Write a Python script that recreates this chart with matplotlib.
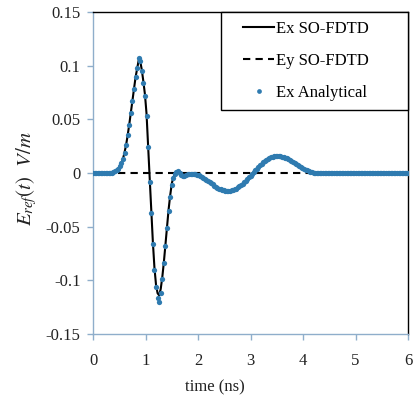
import numpy as np
import matplotlib
matplotlib.use("Agg")
import matplotlib.pyplot as plt
from matplotlib.lines import Line2D
from matplotlib.legend_handler import HandlerLine2D

plt.rcParams['font.family'] = ['Liberation Serif', 'DejaVu Serif']
plt.rcParams['mathtext.fontset'] = 'stix'

# time samples (ns), 0.03 ns step
t = np.round(np.arange(201) * 0.03, 2)

# Ex analytical (V/m)
ex_analytical = [
    0, 0, 0, 0, 0, 0, 0, 0, 0, 0, 0, 0,
    0.0003, 0.0008, 0.0015, 0.0025, 0.004, 0.0062, 0.0092, 0.013, 0.019, 0.026,
    0.035, 0.045, 0.056, 0.067, 0.078, 0.089, 0.098, 0.107, 0.104, 0.095,
    0.084, 0.072, 0.053, 0.024, -0.008, -0.037, -0.066, -0.090, -0.106, -0.116,
    -0.120, -0.112, -0.099, -0.084, -0.068, -0.051, -0.035, -0.022, -0.011, -0.005,
    -0.001, 0.001, 0.0015, 0.0, -0.002, -0.003, -0.0025, -0.0015, -0.001, -0.0008,
    -0.0009, -0.001, -0.0011, -0.0013, -0.0017, -0.0022, -0.0028, -0.0036, -0.0044, -0.0054,
    -0.0064, -0.0074, -0.0085, -0.0096, -0.0107, -0.0118, -0.0127, -0.0137, -0.0145, -0.0152,
    -0.0158, -0.0163, -0.0166, -0.0168, -0.0168, -0.0166, -0.0163, -0.0159, -0.0153, -0.0145,
    -0.0135, -0.0125, -0.0113, -0.0100, -0.0086, -0.0072, -0.0056, -0.0041, -0.0024, -0.0008,
    0.0009, 0.0025, 0.0041, 0.0057, 0.0072, 0.0086, 0.0099, 0.0111, 0.0122, 0.0132,
    0.0140, 0.0147, 0.0152, 0.0156, 0.0158, 0.0158, 0.0157, 0.0155, 0.0152, 0.0147,
    0.0142, 0.0136, 0.0129, 0.0121, 0.0113, 0.0104, 0.0095, 0.0085, 0.0076, 0.0066,
    0.0057, 0.0048, 0.0040, 0.0032, 0.0024, 0.0018, 0.0012, 0.0007, 0.0004, 0.0002,
    0, 0, 0, 0, 0, 0, 0, 0, 0, 0, 0, 0, 0, 0, 0, 0, 0, 0, 0, 0,
    0, 0, 0, 0, 0, 0, 0, 0, 0, 0, 0, 0, 0, 0, 0, 0, 0, 0, 0, 0,
    0, 0, 0, 0, 0, 0, 0, 0, 0, 0, 0, 0, 0, 0, 0, 0, 0, 0, 0,
]

# Ex SO-FDTD (V/m)
ex_fdtd = [
    0, 0, 0, 0, 0, 0, 0, 0, 0, 0, 0, 0,
    0.0003, 0.0008, 0.0015, 0.0025, 0.004, 0.0062, 0.0092, 0.013, 0.019, 0.026,
    0.035, 0.045, 0.056, 0.067, 0.078, 0.089, 0.097, 0.105, 0.104, 0.096,
    0.085, 0.073, 0.055, 0.026, -0.005, -0.035, -0.064, -0.088, -0.104, -0.112,
    -0.114, -0.108, -0.097, -0.083, -0.067, -0.050, -0.034, -0.021, -0.010, -0.004,
    -0.001, 0.001, 0.0015, 0.0, -0.002, -0.003, -0.0025, -0.0015, -0.001, -0.0008,
    -0.0009, -0.001, -0.0011, -0.0013, -0.0017, -0.0022, -0.0028, -0.0036, -0.0044, -0.0054,
    -0.0064, -0.0074, -0.0085, -0.0096, -0.0107, -0.0118, -0.0127, -0.0137, -0.0145, -0.0152,
    -0.0158, -0.0163, -0.0166, -0.0168, -0.0168, -0.0166, -0.0163, -0.0159, -0.0153, -0.0145,
    -0.0135, -0.0125, -0.0113, -0.0100, -0.0086, -0.0072, -0.0056, -0.0041, -0.0024, -0.0008,
    0.0009, 0.0025, 0.0041, 0.0057, 0.0072, 0.0086, 0.0099, 0.0111, 0.0122, 0.0132,
    0.0140, 0.0147, 0.0152, 0.0156, 0.0158, 0.0158, 0.0157, 0.0155, 0.0152, 0.0147,
    0.0142, 0.0136, 0.0129, 0.0121, 0.0113, 0.0104, 0.0095, 0.0085, 0.0076, 0.0066,
    0.0057, 0.0048, 0.0040, 0.0032, 0.0024, 0.0018, 0.0012, 0.0007, 0.0004, 0.0002,
    0, 0, 0, 0, 0, 0, 0, 0, 0, 0, 0, 0, 0, 0, 0, 0, 0, 0, 0, 0,
    0, 0, 0, 0, 0, 0, 0, 0, 0, 0, 0, 0, 0, 0, 0, 0, 0, 0, 0, 0,
    0, 0, 0, 0, 0, 0, 0, 0, 0, 0, 0, 0, 0, 0, 0, 0, 0, 0, 0,
]

# Ey SO-FDTD stays at zero
t_ey = [0, 0.5, 1, 1.5, 2, 2.5, 3, 3.5, 4, 4.5, 5, 5.5, 6]
ey_fdtd = [0, 0, 0, 0, 0, 0, 0, 0, 0, 0, 0, 0, 0]

yticks = [-0.15, -0.1, -0.05, 0, 0.05, 0.1, 0.15]
ytick_labels = ['-0.15', '-0.1', '-0.05', '0', '0.05', '0.1', '0.15']
xticks = [0, 1, 2, 3, 4, 5, 6]

blue = '#2F7BB0'
axcol = '#8FAECB'

fig = plt.figure(figsize=(4.16, 3.98), dpi=100)
ax = fig.add_axes([93/416, 1-334/398, 315/416, 322/398])

ax.plot(t, ex_fdtd, color='black', lw=1.5, label='Ex SO-FDTD', zorder=2)
ax.plot(t_ey, ey_fdtd, color='black', lw=1.5, dashes=(3.5, 2.5), label='Ey SO-FDTD', zorder=1)
ax.plot(t, ex_analytical, ls='none', marker='o', ms=3.8, mew=0, color=blue,
        label='Ex Analytical', zorder=3, snap=False)

ax.set_xlim(0, 6)
ax.set_ylim(-0.15, 0.15)
ax.set_xticks(xticks)
ax.set_xticklabels([str(v) for v in xticks])
ax.set_yticks(yticks)
ax.set_yticklabels(ytick_labels)

for s in ['left', 'bottom']:
    ax.spines[s].set_color(axcol)
    ax.spines[s].set_linewidth(1.0)
for s in ['top', 'right']:
    ax.spines[s].set_color('black')
    ax.spines[s].set_linewidth(1.0)
ax.tick_params(axis='both', direction='out', length=4, width=1, color=axcol,
               labelsize=12, labelcolor='#222222')
ax.tick_params(axis='y', pad=5)
ax.tick_params(axis='x', pad=10)

leg = ax.legend(loc='upper right', bbox_to_anchor=(0.406, 0.705, 0.594, 0.295),
                mode='expand', borderaxespad=0, fontsize=12, frameon=True,
                fancybox=False, edgecolor='black', handlelength=2.65,
                handletextpad=0.1, labelspacing=0.95, numpoints=1,
                borderpad=0.55, markerscale=0.9,
                handler_map={Line2D: HandlerLine2D(xpad=0.8)})
leg.get_frame().set_linewidth(1.0)
leg.get_frame().set_alpha(1)

fig.text(215/416, 1-387/398, 'time (ns)', ha='center', va='center', fontsize=12,
         color='#222222')
fig.text(27/416, 1-179/398, r'$E_{ref}(t)\ \ V/m$', ha='center', va='center',
         rotation=90, fontsize=15, color='#222222')

fig.savefig('out.png', dpi=100)
